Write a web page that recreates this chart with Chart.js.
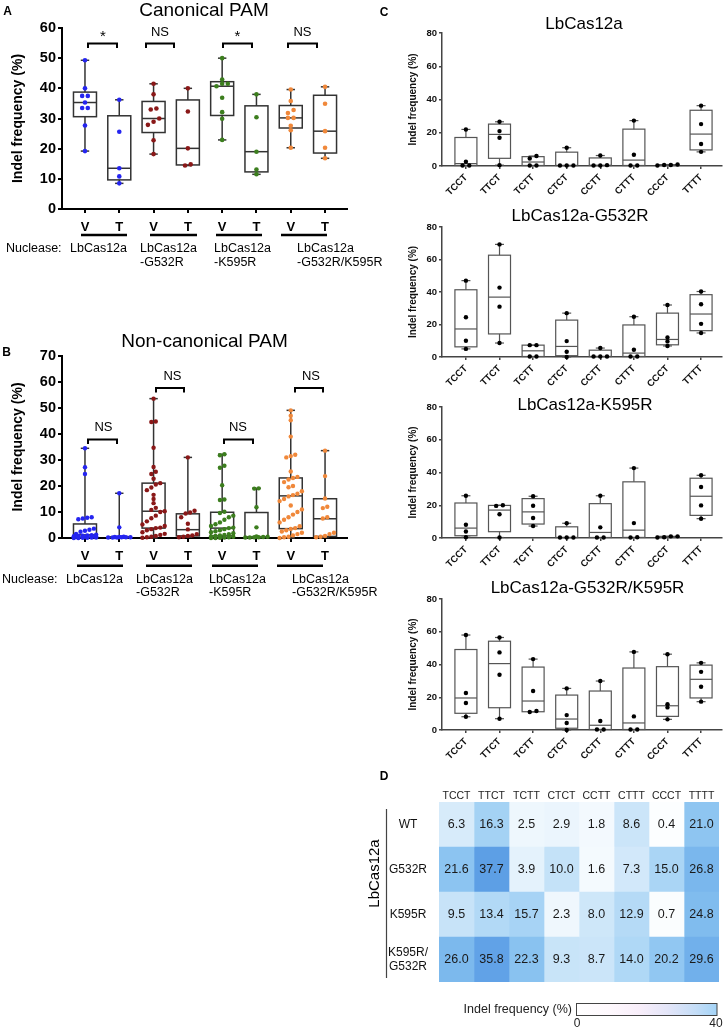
<!DOCTYPE html>
<html>
<head>
<meta charset="utf-8">
<script src="https://cdn.jsdelivr.net/npm/chart.js@4.4.1/dist/chart.umd.min.js"></script>
<style>
  html, body { margin: 0; padding: 0; background: #fff; }
  body { width: 726px; height: 1029px; position: relative; overflow: hidden; }
  canvas { position: absolute; }
</style>
</head>
<body>
<script>
// ---- data ----
const vtLabels = ['V', 'T', 'V', 'T', 'V', 'T', 'V', 'T'];
const nucleases = [['LbCas12a'], ['LbCas12a', '-G532R'], ['LbCas12a', '-K595R'], ['LbCas12a', '-G532R/K595R']];
const groupColors = ['#2525f0', '#8a1818', '#3c7e1e', '#f0883a'];

// panel A: canonical PAM, indel % per target (V, T for each nuclease)
const canonicalPoints = [
  [49.3, 40.0, 37.5, 37.5, 35.3, 33.5, 33.5, 27.7, 19.2],
  [36.2, 25.6, 13.5, 10.8, 8.5],
  [41.5, 38.0, 33.3, 33.0, 30.0, 28.9, 27.9, 22.8, 18.2],
  [40.0, 32.3, 20.1, 14.8, 14.4],
  [50.0, 42.9, 41.5, 41.5, 40.7, 36.9, 32.1, 29.9, 22.9],
  [38.0, 30.4, 19.0, 13.1, 11.5],
  [39.6, 35.8, 32.8, 31.8, 30.2, 30.2, 27.6, 26.1, 20.3],
  [40.5, 34.9, 25.8, 20.3, 16.8]
];

// panel B: non-canonical PAM
const noncanonicalPoints = [
  [34.5, 27.2, 24.6, 8.0, 7.8, 7.5, 7.2, 3.6, 3.2, 2.8, 2.4, 1.6, 1.3, 1.1, 1.0, 0.9, 0.8, 0.7, 0.6, 0.5, 0.5, 0.4, 0.3, 0.3, 0.2, 0.2, 0.1, 0.1, 0.0, 0.0],
  [17.2, 4.1, 0.5, 0.4, 0.4, 0.3, 0.3, 0.3, 0.2, 0.2, 0.2],
  [53.6, 44.8, 44.6, 34.7, 27.3, 25.5, 24.6, 22.8, 21.1, 20.6, 19.4, 18.4, 16.6, 15.0, 13.4, 11.6, 10.8, 10.3, 10.0, 8.6, 7.6, 6.4, 5.2, 4.6, 4.0, 3.8, 3.4, 3.0, 2.2, 1.6, 1.2, 0.8, 0.5, 0.3, 0.1],
  [31.0, 10.5, 9.8, 9.4, 8.0, 5.5, 3.3, 1.5, 1.0, 0.8, 0.5, 0.3],
  [32.2, 31.8, 27.8, 27.0, 20.3, 14.8, 14.6, 10.1, 9.6, 8.6, 8.0, 7.0, 6.0, 5.3, 4.6, 4.0, 3.8, 3.4, 3.0, 2.6, 2.2, 1.8, 1.5, 1.2, 1.0, 0.8, 0.6, 0.5, 0.3, 0.2, 0.1, 0.0, 0.0],
  [19.1, 19.0, 11.8, 4.1, 0.6, 0.5, 0.4, 0.3, 0.3, 0.2, 0.2],
  [49.1, 47.0, 45.3, 39.0, 32.0, 31.5, 31.0, 25.6, 23.5, 23.1, 22.5, 21.5, 20.0, 19.5, 18.0, 17.0, 16.5, 16.0, 15.0, 14.2, 12.5, 11.0, 10.0, 9.0, 8.0, 7.0, 6.0, 4.5, 3.8, 3.5, 3.0, 2.5, 2.0, 1.5, 1.0, 0.5, 0.3, 0.0],
  [33.6, 23.8, 15.2, 12.0, 11.5, 8.0, 7.5, 2.0, 1.5, 0.8, 0.5, 0.3]
];
// min, q1, median, q3, max as drawn
const noncanonicalBoxes = [
  [0, 0.3, 1.2, 5.4, 34.5],
  [0.1, 0.2, 0.3, 0.4, 17.2],
  [0, 3.8, 10.3, 21.1, 53.6],
  [0.3, 0.8, 3.2, 9.3, 31.0],
  [0, 0.8, 3.8, 9.9, 32.2],
  [0, 0.2, 0.4, 9.8, 19.1],
  [0, 3.6, 16.2, 23.1, 49.1],
  [0.2, 0.6, 7.4, 15.1, 33.6]
];

// panel C: indel % by PAM motif, 4 targets each
const motifs = ['TCCT', 'TTCT', 'TCTT', 'CTCT', 'CCTT', 'CTTT', 'CCCT', 'TTTT'];
const wtMotifPoints = [
  [22.0, 2.6, 0.3, 0.3], [26.6, 21.0, 17.0, 0.5], [6.0, 4.5, 0.3, 0.3], [11.0, 0.3, 0.3, 0.3],
  [6.3, 0.5, 0.3, 0.3], [27.3, 6.8, 0.3, 0.3], [0.3, 0.9, 0.6, 0.6], [36.3, 25.2, 13.2, 8.5]
];
const g532rMotifPoints = [
  [47.0, 24.5, 10.0, 5.0], [69.3, 42.7, 31.0, 8.6], [7.3, 7.3, 0.3, 0.3], [27.0, 9.8, 3.2, 0.0],
  [5.5, 0.3, 0.3, 0.3], [24.8, 4.5, 0.3, 0.3], [32.0, 12.0, 9.6, 6.8], [40.3, 32.5, 20.4, 14.8]
];
const k595rMotifPoints = [
  [25.8, 8.1, 4.0, 0.5], [20.0, 19.6, 14.5, 0.3], [25.5, 19.7, 12.2, 7.3], [9.0, 0.3, 0.3, 0.3],
  [25.8, 6.5, 0.3, 0.3], [42.7, 9.1, 0.5, 0.3], [0.3, 1.0, 0.5, 1.0], [38.3, 31.1, 19.9, 11.8]
];
const doubleMotifPoints = [
  [58.0, 22.6, 16.5, 8.1], [56.5, 47.4, 33.7, 6.9], [43.3, 23.8, 11.6, 11.0], [25.4, 9.1, 4.3, 0.0],
  [29.9, 5.5, 0.3, 0.3], [47.7, 8.3, 0.3, 0.3], [46.3, 15.8, 13.8, 6.5], [41.0, 35.5, 26.4, 17.3]
];

// panel D: mean indel % heatmap
const heatRowLabels = ['WT', 'G532R', 'K595R', ['K595R/', 'G532R']];
const heatWT = [6.3, 16.3, 2.5, 2.9, 1.8, 8.6, 0.4, 21.0];
const heatG532R = [21.6, 37.7, 3.9, 10.0, 1.6, 7.3, 15.0, 26.8];
const heatK595R = [9.5, 13.4, 15.7, 2.3, 8.0, 12.9, 0.7, 24.8];
const heatDouble = [26.0, 35.8, 22.3, 9.3, 8.7, 14.0, 20.2, 29.6];
const heatRows = [heatWT, heatG532R, heatK595R, heatDouble];

// ---- helpers ----
const FONT = "'Liberation Sans', Arial, Helvetica, sans-serif";
const f = (size, bold) => (bold ? 'bold ' : '') + size + 'px ' + FONT;
Chart.defaults.font.family = FONT;
Chart.defaults.color = '#000';

const BOXES = {}, ANNOT = {}, HEAT = {};

function place(id, L, T, W, H) {
  const c = document.createElement('canvas');
  c.id = id;
  c.width = W; c.height = H;
  c.style.left = L + 'px'; c.style.top = T + 'px';
  c.style.width = W + 'px'; c.style.height = H + 'px';
  document.body.appendChild(c);
  return c;
}

// Prism style quartiles, (n+1) positions
function quartiles(vals) {
  const s = [...vals].sort((a, b) => a - b), n = s.length;
  const at = p => {
    const pos = p * (n + 1) - 1, lo = Math.floor(pos), fr = pos - lo;
    if (lo < 0) return s[0];
    if (lo >= n - 1) return s[n - 1];
    return s[lo] + fr * (s[lo + 1] - s[lo]);
  };
  return [s[0], at(0.25), at(0.5), at(0.75), s[n - 1]];
}

// spread close values sideways, centred on the box
function swarm(vals, center, tol, step, maxRow) {
  const idx = vals.map((v, i) => i).sort((a, b) => vals[a] - vals[b]);
  const xs = [];
  let i = 0;
  while (i < idx.length) {
    let j = i + 1;
    while (j < idx.length && vals[idx[j]] - vals[idx[j - 1]] < tol && j - i < maxRow) j++;
    const m = j - i;
    for (let k = i; k < j; k++) xs[idx[k]] = center + (k - i - (m - 1) / 2) * step;
    i = j;
  }
  return vals.map((v, k) => ({ x: xs[k], y: v }));
}

const boxPlugin = {
  id: 'boxes',
  beforeDatasetsDraw(chart) {
    const b = BOXES[chart.canvas.id];
    if (!b) return;
    const { x, y } = chart.scales;
    const ctx = chart.ctx;
    ctx.save();
    ctx.strokeStyle = b.color;
    ctx.lineWidth = b.lw;
    const seg = (x0, y0, x1, y1) => { ctx.beginPath(); ctx.moveTo(x0, y0); ctx.lineTo(x1, y1); ctx.stroke(); };
    b.stats.forEach((s, i) => {
      const cx = x.getPixelForValue(i);
      const [mn, q1, md, q3, mx] = s.map(v => y.getPixelForValue(v));
      ctx.strokeRect(cx - b.hw, q3, 2 * b.hw, q1 - q3);
      seg(cx, q3, cx, mx); seg(cx - b.cw, mx, cx + b.cw, mx);
      seg(cx, q1, cx, mn); seg(cx - b.cw, mn, cx + b.cw, mn);
      seg(cx - b.hw, md, cx + b.hw, md);
    });
    ctx.restore();
  }
};

const annotPlugin = {
  id: 'annot',
  afterDraw(chart) {
    const a = ANNOT[chart.canvas.id];
    if (!a) return;
    const ctx = chart.ctx;
    ctx.save();
    ctx.translate(-a.ox, -a.oy);
    a.items.forEach(it => {
      if (it.text !== undefined) {
        ctx.save();
        ctx.font = it.font;
        ctx.fillStyle = it.color || '#000';
        ctx.textAlign = it.align || 'center';
        ctx.textBaseline = 'middle';
        ctx.translate(it.x, it.y);
        if (it.rot) ctx.rotate(it.rot);
        ctx.fillText(it.text, 0, 0);
        ctx.restore();
      } else if (it.line) {
        ctx.beginPath();
        ctx.lineWidth = it.w || 1;
        ctx.strokeStyle = it.color || '#000';
        ctx.lineJoin = 'miter';
        it.line.forEach(([px, py], k) => k ? ctx.lineTo(px, py) : ctx.moveTo(px, py));
        ctx.stroke();
      } else if (it.rect) {
        const [rx, ry, rw, rh] = it.rect;
        const g = ctx.createLinearGradient(rx, 0, rx + rw, 0);
        it.stops.forEach(([p, c]) => g.addColorStop(p, c));
        ctx.fillStyle = g;
        ctx.fillRect(rx, ry, rw, rh);
        ctx.lineWidth = 1;
        ctx.strokeStyle = it.stroke;
        ctx.strokeRect(rx, ry, rw, rh);
      }
    });
    ctx.restore();
  }
};

const heatPlugin = {
  id: 'heatText',
  afterDatasetsDraw(chart) {
    const h = HEAT[chart.canvas.id];
    if (!h) return;
    const ctx = chart.ctx;
    ctx.save();
    ctx.font = h.font;
    ctx.fillStyle = h.color;
    ctx.textAlign = 'center';
    ctx.textBaseline = 'middle';
    chart.data.datasets.forEach((ds, c) => {
      chart.getDatasetMeta(c).data.forEach((el, r) => {
        const p = el.getProps(['x', 'base', 'y'], true);
        ctx.fillText(h.rows[r][c].toFixed(1), (p.x + p.base) / 2, p.y + 0.5);
      });
    });
    ctx.restore();
  }
};

function boxPanel(id, o) {
  const cv = place(id, o.L, o.T, o.W, o.H);
  BOXES[id] = { stats: o.stats, hw: o.hw, cw: o.cw, color: o.boxColor, lw: o.boxLw };
  ANNOT[id] = { ox: o.L, oy: o.T, items: o.annot };
  const datasets = o.points.map((vals, i) => ({
    data: swarm(vals, i, o.tol, o.step, o.maxRow),
    backgroundColor: o.colors[i],
    borderWidth: 0,
    pointRadius: o.r,
    clip: false
  }));
  const axisGrid = { drawOnChartArea: false, tickLength: o.tickLen, color: o.axisColor, lineWidth: o.axisLw };
  return new Chart(cv, {
    type: 'scatter',
    data: { datasets },
    options: {
      responsive: false,
      animation: false,
      events: [],
      layout: {
        padding: {
          left: o.area.l - o.L - o.yW,
          right: o.L + o.W - o.area.r,
          top: o.area.t - o.T,
          bottom: o.T + o.H - o.area.b - o.xH
        }
      },
      plugins: { legend: { display: false }, tooltip: { enabled: false } },
      scales: {
        x: {
          type: 'linear', min: o.xMin, max: o.xMax,
          afterBuildTicks: s => { s.ticks = o.tickText.map((t, i) => ({ value: i })); },
          afterFit: s => { s.height = o.xH; },
          ticks: {
            callback: v => o.tickText[Math.round(v)],
            font: o.xFont, color: o.tickColor, padding: o.xPad,
            autoSkip: false, maxRotation: o.rot, minRotation: o.rot
          },
          grid: axisGrid,
          border: { color: o.axisColor, width: o.axisLw }
        },
        y: {
          min: 0, max: o.yMax,
          afterFit: s => { s.width = o.yW; },
          ticks: { stepSize: o.yStep, font: o.yFont, color: o.tickColor, padding: 2 },
          grid: axisGrid,
          border: { color: o.axisColor, width: o.axisLw },
          title: { display: true, text: 'Indel frequency (%)', font: o.titleFont, color: o.tickColor, padding: { top: 4, bottom: 0 } }
        }
      }
    },
    plugins: [boxPlugin, annotPlugin]
  });
}

const bracket = (x0, x1, y, yl) => ({ line: [[x0, yl], [x0, y], [x1, y], [x1, yl]], w: 2 });

function nucleaseItems(labelX, nameXs, y1, y2, lineY, lineXs) {
  const items = [{ text: 'Nuclease:', x: labelX, y: y1, font: f(12.5), align: 'left' }];
  nucleases.forEach((lines, g) => {
    lines.forEach((t, k) => items.push({ text: t, x: nameXs[g], y: k ? y2 : y1, font: f(12.5), align: 'left' }));
    items.push({ line: [[lineXs[g][0], lineY], [lineXs[g][1], lineY]], w: 2.5 });
  });
  return items;
}

const vtColors = vtLabels.map((t, i) => groupColors[i >> 1]);
const vtStyle = {
  yW: 56, xH: 30, xMin: -0.67, xMax: 7.64, yStep: 10, tickText: vtLabels, colors: vtColors,
  hw: 11.5, cw: 4.2, boxColor: '#333', boxLw: 1.5, r: 2.3,
  tickLen: 4, axisColor: '#000', tickColor: '#000', axisLw: 2, rot: 0, xPad: 7,
  xFont: { size: 13, weight: 'bold' }, yFont: { size: 14.5, weight: 'bold' }, titleFont: { size: 14, weight: 'bold' }
};

// ---- panel A ----
boxPanel('cA', Object.assign({}, vtStyle, {
  L: 0, T: 0, W: 385, H: 270, area: { l: 62, r: 347, t: 28, b: 209 },
  yMax: 60, points: canonicalPoints, stats: canonicalPoints.map(quartiles),
  tol: 1.3, step: 0.165, maxRow: 5,
  annot: [
    { text: 'A', x: 7.5, y: 11.5, font: f(12, true) },
    { text: 'Canonical PAM', x: 204, y: 10.5, font: f(19) },
    bracket(88, 117, 43.5, 48), bracket(146, 174, 43.5, 48), bracket(223, 252, 43.5, 48), bracket(288, 317, 43.5, 48),
    { text: '*', x: 103, y: 37, font: f(15) }, { text: 'NS', x: 160, y: 32, font: f(13) },
    { text: '*', x: 237.5, y: 37, font: f(15) }, { text: 'NS', x: 302.5, y: 32, font: f(13) }
  ].concat(nucleaseItems(6, [70, 140, 214, 297], 249, 262.5, 235, [[81, 127], [150, 197], [216, 262], [281, 327]]))
}));

// ---- panel B ----
boxPanel('cB', Object.assign({}, vtStyle, {
  L: 0, T: 330, W: 385, H: 272, area: { l: 62, r: 347, t: 356, b: 538 },
  yMax: 70, points: noncanonicalPoints, stats: noncanonicalBoxes,
  tol: 1.5, step: 0.13, maxRow: 6, r: 2.2,
  annot: [
    { text: 'B', x: 6.5, y: 352.5, font: f(12, true) },
    { text: 'Non-canonical PAM', x: 204.5, y: 341.5, font: f(19) },
    bracket(88, 117, 439.5, 444), bracket(156, 184, 388, 392.5), bracket(224, 253, 439.5, 444), bracket(295, 323, 388, 392.5),
    { text: 'NS', x: 103.5, y: 427.5, font: f(13) }, { text: 'NS', x: 172.5, y: 376.5, font: f(13) },
    { text: 'NS', x: 238, y: 427.5, font: f(13) }, { text: 'NS', x: 311, y: 376.5, font: f(13) }
  ].concat(nucleaseItems(2, [66, 136, 209, 292], 580, 592.5, 565.7, [[77, 123], [146, 192], [212, 258], [277, 323]]))
}));

// ---- panel C ----
const motifStyle = {
  L: 380, W: 346, yW: 39, xH: 45, xMin: -0.712, xMax: 7.623, yMax: 80, yStep: 20,
  tickText: motifs, colors: motifs.map(() => '#000'),
  hw: 11, cw: 4.5, boxColor: '#555', boxLw: 1.2, r: 2.2, tol: 1.9, step: 0.2, maxRow: 4,
  tickLen: 3, axisColor: '#444', tickColor: '#111', axisLw: 1.5, rot: 45, xPad: 3,
  xFont: { size: 9.5, weight: 'bold' }, yFont: { size: 9.5, weight: 'bold' }, titleFont: { size: 10, weight: 'bold' }
};
const motifPanels = [
  { pts: wtMotifPoints, title: 'LbCas12a', tx: 584, ty: 24, t: 33, b: 166 },
  { pts: g532rMotifPoints, title: 'LbCas12a-G532R', tx: 580, ty: 216, t: 227, b: 357 },
  { pts: k595rMotifPoints, title: 'LbCas12a-K595R', tx: 585, ty: 405.5, t: 407, b: 538 },
  { pts: doubleMotifPoints, title: 'LbCas12a-G532R/K595R', tx: 587.5, ty: 588.5, t: 599, b: 730 }
];
motifPanels.forEach((p, k) => {
  const T = Math.max(0, p.t - 36);
  const items = [{ text: p.title, x: p.tx, y: p.ty, font: f(17) }];
  if (k === 0) items.push({ text: 'C', x: 384, y: 12.5, font: f(12, true) });
  boxPanel('cC' + k, Object.assign({}, motifStyle, {
    T, H: p.b - T + 45, area: { l: 442, r: 723, t: p.t, b: p.b },
    points: p.pts, stats: p.pts.map(quartiles), annot: items
  }));
});

// ---- panel D: heatmap ----
const heatStops = [[0, [255, 255, 255]], [5, [221, 238, 251]], [10, [196, 226, 248]], [15, [170, 213, 245]],
  [20, [146, 200, 242]], [25, [127, 187, 238]], [30, [112, 175, 235]], [35, [99, 164, 231]], [40, [88, 154, 228]]];
function heatColor(v) {
  for (let i = 1; i < heatStops.length; i++) {
    const [v0, c0] = heatStops[i - 1], [v1, c1] = heatStops[i];
    if (v <= v1 || i === heatStops.length - 1) {
      const t = Math.max(0, Math.min(1, (v - v0) / (v1 - v0)));
      return 'rgb(' + c0.map((c, k) => Math.round(c + t * (c1[k] - c))).join(',') + ')';
    }
  }
}

(function () {
  const L = 360, T = 768, W = 366, H = 261;
  const area = { l: 439, r: 719, t: 802, b: 982 }, yW = 77, xH = 22;
  const cv = place('cD', L, T, W, H);
  HEAT.cD = { rows: heatRows, font: f(12.5), color: '#1a1a1a' };
  ANNOT.cD = {
    ox: L, oy: T, items: [
      { text: 'D', x: 384, y: 777, font: f(12, true) },
      { text: 'LbCas12a', x: 375, y: 873.5, font: f(15), rot: -Math.PI / 2 },
      { line: [[386.5, 809], [386.5, 978]], w: 1.2, color: '#444' },
      { rect: [576.5, 1003.5, 140.5, 12], stroke: '#444',
        stops: [[0, '#ffffff'], [0.25, '#fef8fd'], [0.45, '#f8eefa'], [0.65, '#e3e5f8'], [0.85, '#c4ddf7'], [1, '#a4d4f7']] },
      { text: 'Indel frequency (%)', x: 572, y: 1009.5, font: f(12.5), color: '#222', align: 'right' },
      { text: '0', x: 577, y: 1023.5, font: f(12), color: '#222' },
      { text: '40', x: 716, y: 1023.5, font: f(12), color: '#222' }
    ]
  };
  new Chart(cv, {
    type: 'bar',
    data: {
      labels: heatRowLabels,
      datasets: motifs.map((m, c) => ({
        data: heatRows.map(() => [c, c + 1]),
        backgroundColor: heatRows.map(r => heatColor(r[c])),
        borderWidth: 0,
        grouped: false,
        barPercentage: 1,
        categoryPercentage: 1
      }))
    },
    options: {
      indexAxis: 'y',
      responsive: false,
      animation: false,
      events: [],
      layout: { padding: { left: area.l - L - yW, right: L + W - area.r, top: area.t - T - xH, bottom: T + H - area.b } },
      plugins: { legend: { display: false }, tooltip: { enabled: false } },
      scales: {
        x: {
          type: 'linear', position: 'top', min: 0, max: 8,
          afterBuildTicks: s => { s.ticks = motifs.map((m, i) => ({ value: i + 0.5 })); },
          afterFit: s => { s.height = xH; },
          ticks: { callback: v => motifs[Math.floor(v)], font: { size: 10.5 }, color: '#222', padding: 0, autoSkip: false, maxRotation: 0 },
          grid: { display: false, drawTicks: false },
          border: { display: false }
        },
        y: {
          type: 'category',
          afterFit: s => { s.width = yW; },
          ticks: { font: { size: 12, lineHeight: 1.15 }, color: '#111', crossAlign: 'center', padding: 11 },
          grid: { display: false, drawTicks: false },
          border: { display: false }
        }
      }
    },
    plugins: [heatPlugin, annotPlugin]
  });
})();
</script>
</body>
</html>
